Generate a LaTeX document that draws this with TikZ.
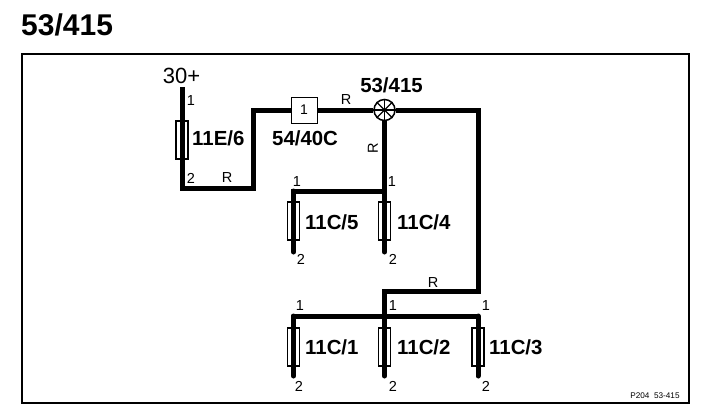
\documentclass[tikz,border=0pt]{standalone}
\usepackage{fontspec}
\setmainfont{Liberation Sans}
\usetikzlibrary{positioning}
\tikzset{wire/.style = {line width = 5, line cap = butt, line join = miter}}
\tikzset{fuse/.style = {draw, fill = white, line width = 1.2, inner sep = 0, minimum width = 12, minimum height = 38}}
\tikzset{relay/.style = {draw, fill = white, line width = 1, inner sep = 0, minimum size = 26, font = \fontsize{14}{16}\selectfont}}
\tikzset{lamp/.style = {draw, fill = white, circle, line width = 1.5, inner sep = 0, minimum size = 21}}
\tikzset{pin/.style = {inner sep = 0, font = \fontsize{14.5}{16}\selectfont}}
\tikzset{partname/.style = {inner sep = 0, anchor = west, font = \fontsize{20.4}{24}\selectfont\bfseries}}
\begin{document}
\begin{tikzpicture}[x = 1pt, y = -1pt]
    \useasboundingbox (0, 0) rectangle (704, 418);

    \node [inner sep = 0, anchor = west, font = \fontsize{30}{32}\selectfont\bfseries] (title) at (21, 25) {53/415};
    \draw [line width = 2] (22, 54) rectangle (689, 403);

    % fuses
    \node [fuse] (fE6) at (182, 140) {};
    \node [fuse] (fC5) at (293.5, 221) {};
    \node [fuse] (fC4) at (384.5, 221) {};
    \node [fuse] (fC1) at (293.5, 347) {};
    \node [fuse] (fC2) at (384.5, 347) {};
    \node [fuse] (fC3) at (478, 347) {};

    \node [relay] (relay) at (304, 110) {1};
    \node [lamp] (lamp) at (384.5, 110) {};
    \draw [line width = 1.2] (lamp.north) -- (lamp.south);
    \draw [line width = 1.2] (lamp.east) -- (lamp.west);
    \draw [line width = 1.2] (lamp.north east) -- (lamp.south west);
    \draw [line width = 1.2] (lamp.north west) -- (lamp.south east);

    \coordinate (top) at (182, 87);
    \coordinate (bendA) at (182, 188);
    \coordinate (bendB) at (253, 188);
    \coordinate (bendC) at (253, 110);
    \coordinate (bendD) at (478, 110);
    \coordinate (bendE) at (478, 291);
    \coordinate (bendF) at (384.5, 291);
    \coordinate (busA) at (384.5, 191);
    \coordinate (busB) at (293.5, 191);
    \coordinate (busC) at (293.5, 316);
    \coordinate (busD) at (384.5, 316);
    \coordinate (busE) at (478, 316);
    \coordinate (endC5) at (293.5, 252);
    \coordinate (endC4) at (384.5, 252);
    \coordinate (endC1) at (293.5, 376);
    \coordinate (endC2) at (384.5, 376);
    \coordinate (endC3) at (478, 376);

    \draw [wire] (top) -- (bendA) -- (bendB) -- (bendC) -- (relay.west);
    \draw [wire] (relay.east) -- (lamp.west);
    \draw [wire] (lamp.east) -- (bendD) -- (bendE) -- (bendF) -- (busD);
    \draw [wire] (lamp.south) -- (busA);
    \draw [wire] (busA) -- (busB) -- (busC |- fC5.north);
    \draw [wire, line cap = round] (busB) -- (endC5);
    \draw [wire, line cap = round] (busA) -- (endC4);
    \draw [wire, line cap = round] (busC) -- (busE);
    \draw [wire, line cap = round] (busC) -- (endC1);
    \draw [wire, line cap = round] (busD) -- (endC2);
    \draw [wire, line cap = round] (busE) -- (endC3);

    \node [inner sep = 0, font = \fontsize{22}{24}\selectfont] (supply) at (181.5, 76) {30+};
    \node [inner sep = 0, font = \fontsize{20.4}{24}\selectfont\bfseries] (lampname) at (391.5, 85) {53/415};
    \node [partname] (nameE6) at (192, 138) {11E/6};
    \node [partname] (namerelay) at (272, 138) {54/40C};
    \node [partname] (nameC5) at (305, 222) {11C/5};
    \node [partname] (nameC4) at (397, 222) {11C/4};
    \node [partname] (nameC1) at (305, 347) {11C/1};
    \node [partname] (nameC2) at (397, 347) {11C/2};
    \node [partname] (nameC3) at (489, 347) {11C/3};

    \node [pin] (pA) at (191, 101) {1};
    \node [pin] (pB) at (191, 178) {2};
    \node [pin] (pC) at (297, 182) {1};
    \node [pin] (pD) at (392, 182) {1};
    \node [pin] (pE) at (301, 259) {2};
    \node [pin] (pF) at (393, 259) {2};
    \node [pin] (pG) at (300, 306) {1};
    \node [pin] (pH) at (393, 306) {1};
    \node [pin] (pI) at (486, 306) {1};
    \node [pin] (pJ) at (299, 386) {2};
    \node [pin] (pK) at (393, 386) {2};
    \node [pin] (pL) at (486, 386) {2};

    \node [pin] (colA) at (227, 178) {R};
    \node [pin] (colB) at (346, 100) {R};
    \node [pin, rotate = 90] (colC) at (373, 148) {R};
    \node [pin] (colD) at (433, 283) {R};

    \node [inner sep = 0, font = \fontsize{8.2}{9}\selectfont] (stamp) at (655, 396) {P204\ \ 53-415};
  \end{tikzpicture}
\end{document}
